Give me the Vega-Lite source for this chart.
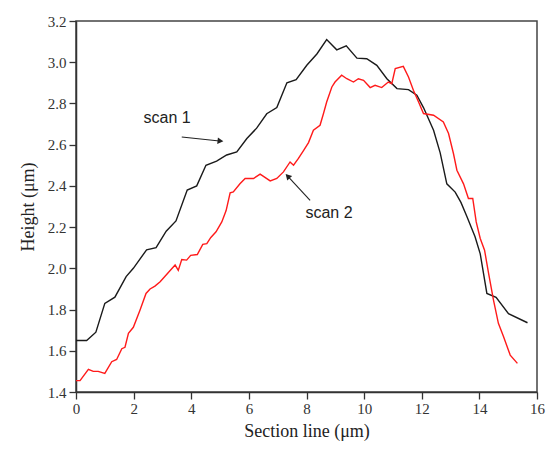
{
  "$schema": "https://vega.github.io/schema/vega-lite/v6.json",
  "width": 461,
  "height": 371,
  "autosize": {"type": "none"},
  "padding": {"left": 76, "top": 21, "right": 13, "bottom": 65},
  "background": "white",
  "config": {
    "view": {"stroke": "#444", "strokeWidth": 1.5},
    "axis": {
      "labelFont": "Liberation Serif",
      "titleFont": "Liberation Serif",
      "labelFontSize": 15,
      "titleFontSize": 18,
      "titleFontWeight": "normal",
      "labelColor": "#333",
      "titleColor": "#222",
      "domainColor": "#333",
      "domainWidth": 1.5,
      "tickColor": "#333",
      "tickWidth": 1.3,
      "grid": false
    }
  },
  "datasets": {
    "scans": [
      {"x": 0, "y": 1.65, "scan": "scan 1"},
      {"x": 0.37, "y": 1.65, "scan": "scan 1"},
      {"x": 0.69, "y": 1.69, "scan": "scan 1"},
      {"x": 1.0, "y": 1.83, "scan": "scan 1"},
      {"x": 1.35, "y": 1.86, "scan": "scan 1"},
      {"x": 1.74, "y": 1.96, "scan": "scan 1"},
      {"x": 1.99, "y": 2.0, "scan": "scan 1"},
      {"x": 2.45, "y": 2.09, "scan": "scan 1"},
      {"x": 2.78, "y": 2.1, "scan": "scan 1"},
      {"x": 3.13, "y": 2.18, "scan": "scan 1"},
      {"x": 3.47, "y": 2.23, "scan": "scan 1"},
      {"x": 3.86, "y": 2.38, "scan": "scan 1"},
      {"x": 4.19, "y": 2.4, "scan": "scan 1"},
      {"x": 4.51, "y": 2.5, "scan": "scan 1"},
      {"x": 4.88, "y": 2.52, "scan": "scan 1"},
      {"x": 5.23, "y": 2.55, "scan": "scan 1"},
      {"x": 5.58, "y": 2.565, "scan": "scan 1"},
      {"x": 5.93, "y": 2.63, "scan": "scan 1"},
      {"x": 6.27, "y": 2.68, "scan": "scan 1"},
      {"x": 6.62, "y": 2.75, "scan": "scan 1"},
      {"x": 6.97, "y": 2.78, "scan": "scan 1"},
      {"x": 7.32, "y": 2.9, "scan": "scan 1"},
      {"x": 7.64, "y": 2.915, "scan": "scan 1"},
      {"x": 8.01, "y": 2.985, "scan": "scan 1"},
      {"x": 8.36, "y": 3.04, "scan": "scan 1"},
      {"x": 8.7, "y": 3.11, "scan": "scan 1"},
      {"x": 9.05, "y": 3.06, "scan": "scan 1"},
      {"x": 9.38, "y": 3.08, "scan": "scan 1"},
      {"x": 9.75, "y": 3.02, "scan": "scan 1"},
      {"x": 10.09, "y": 3.017, "scan": "scan 1"},
      {"x": 10.44, "y": 2.985, "scan": "scan 1"},
      {"x": 10.79, "y": 2.92, "scan": "scan 1"},
      {"x": 11.14, "y": 2.872, "scan": "scan 1"},
      {"x": 11.54, "y": 2.867, "scan": "scan 1"},
      {"x": 11.83, "y": 2.84, "scan": "scan 1"},
      {"x": 12.06, "y": 2.78, "scan": "scan 1"},
      {"x": 12.41, "y": 2.67, "scan": "scan 1"},
      {"x": 12.64, "y": 2.56, "scan": "scan 1"},
      {"x": 12.87, "y": 2.41, "scan": "scan 1"},
      {"x": 13.16, "y": 2.37, "scan": "scan 1"},
      {"x": 13.36, "y": 2.32, "scan": "scan 1"},
      {"x": 13.57, "y": 2.25, "scan": "scan 1"},
      {"x": 13.85, "y": 2.153, "scan": "scan 1"},
      {"x": 14.03, "y": 2.07, "scan": "scan 1"},
      {"x": 14.26, "y": 1.878, "scan": "scan 1"},
      {"x": 14.58, "y": 1.859, "scan": "scan 1"},
      {"x": 15.01, "y": 1.78, "scan": "scan 1"},
      {"x": 15.67, "y": 1.736, "scan": "scan 1"},
      {"x": 0, "y": 1.455, "scan": "scan 2"},
      {"x": 0.14, "y": 1.455, "scan": "scan 2"},
      {"x": 0.43, "y": 1.51, "scan": "scan 2"},
      {"x": 0.6, "y": 1.5, "scan": "scan 2"},
      {"x": 0.77, "y": 1.5, "scan": "scan 2"},
      {"x": 1.0, "y": 1.49, "scan": "scan 2"},
      {"x": 1.24, "y": 1.547, "scan": "scan 2"},
      {"x": 1.41, "y": 1.558, "scan": "scan 2"},
      {"x": 1.59, "y": 1.61, "scan": "scan 2"},
      {"x": 1.7, "y": 1.617, "scan": "scan 2"},
      {"x": 1.82, "y": 1.685, "scan": "scan 2"},
      {"x": 1.99, "y": 1.714, "scan": "scan 2"},
      {"x": 2.22, "y": 1.797, "scan": "scan 2"},
      {"x": 2.43, "y": 1.878, "scan": "scan 2"},
      {"x": 2.57, "y": 1.9, "scan": "scan 2"},
      {"x": 2.74, "y": 1.914, "scan": "scan 2"},
      {"x": 2.92, "y": 1.935, "scan": "scan 2"},
      {"x": 3.09, "y": 1.962, "scan": "scan 2"},
      {"x": 3.26, "y": 1.988, "scan": "scan 2"},
      {"x": 3.44, "y": 2.016, "scan": "scan 2"},
      {"x": 3.55, "y": 1.99, "scan": "scan 2"},
      {"x": 3.67, "y": 2.043, "scan": "scan 2"},
      {"x": 3.84, "y": 2.04, "scan": "scan 2"},
      {"x": 3.98, "y": 2.063, "scan": "scan 2"},
      {"x": 4.21, "y": 2.067, "scan": "scan 2"},
      {"x": 4.4, "y": 2.116, "scan": "scan 2"},
      {"x": 4.54, "y": 2.12, "scan": "scan 2"},
      {"x": 4.68, "y": 2.15, "scan": "scan 2"},
      {"x": 4.86, "y": 2.177, "scan": "scan 2"},
      {"x": 5.06, "y": 2.225, "scan": "scan 2"},
      {"x": 5.21, "y": 2.28, "scan": "scan 2"},
      {"x": 5.35, "y": 2.366, "scan": "scan 2"},
      {"x": 5.46, "y": 2.371, "scan": "scan 2"},
      {"x": 5.69, "y": 2.41, "scan": "scan 2"},
      {"x": 5.87, "y": 2.436, "scan": "scan 2"},
      {"x": 6.16, "y": 2.436, "scan": "scan 2"},
      {"x": 6.39, "y": 2.457, "scan": "scan 2"},
      {"x": 6.74, "y": 2.424, "scan": "scan 2"},
      {"x": 6.97, "y": 2.436, "scan": "scan 2"},
      {"x": 7.2, "y": 2.468, "scan": "scan 2"},
      {"x": 7.43, "y": 2.516, "scan": "scan 2"},
      {"x": 7.55, "y": 2.5, "scan": "scan 2"},
      {"x": 7.72, "y": 2.533, "scan": "scan 2"},
      {"x": 7.89, "y": 2.57, "scan": "scan 2"},
      {"x": 8.07, "y": 2.61, "scan": "scan 2"},
      {"x": 8.24, "y": 2.67, "scan": "scan 2"},
      {"x": 8.47, "y": 2.694, "scan": "scan 2"},
      {"x": 8.59, "y": 2.751, "scan": "scan 2"},
      {"x": 8.7, "y": 2.807, "scan": "scan 2"},
      {"x": 8.88, "y": 2.88, "scan": "scan 2"},
      {"x": 8.99, "y": 2.904, "scan": "scan 2"},
      {"x": 9.22, "y": 2.937, "scan": "scan 2"},
      {"x": 9.4, "y": 2.92, "scan": "scan 2"},
      {"x": 9.63, "y": 2.904, "scan": "scan 2"},
      {"x": 9.8, "y": 2.92, "scan": "scan 2"},
      {"x": 9.98, "y": 2.912, "scan": "scan 2"},
      {"x": 10.21, "y": 2.877, "scan": "scan 2"},
      {"x": 10.38, "y": 2.888, "scan": "scan 2"},
      {"x": 10.61, "y": 2.877, "scan": "scan 2"},
      {"x": 10.84, "y": 2.904, "scan": "scan 2"},
      {"x": 10.96, "y": 2.896, "scan": "scan 2"},
      {"x": 11.08, "y": 2.969, "scan": "scan 2"},
      {"x": 11.36, "y": 2.98, "scan": "scan 2"},
      {"x": 11.54, "y": 2.928, "scan": "scan 2"},
      {"x": 11.71, "y": 2.864, "scan": "scan 2"},
      {"x": 11.89, "y": 2.807, "scan": "scan 2"},
      {"x": 12.06, "y": 2.751, "scan": "scan 2"},
      {"x": 12.41, "y": 2.743, "scan": "scan 2"},
      {"x": 12.75, "y": 2.71, "scan": "scan 2"},
      {"x": 12.93, "y": 2.654, "scan": "scan 2"},
      {"x": 13.1, "y": 2.557, "scan": "scan 2"},
      {"x": 13.22, "y": 2.476, "scan": "scan 2"},
      {"x": 13.45, "y": 2.41, "scan": "scan 2"},
      {"x": 13.62, "y": 2.339, "scan": "scan 2"},
      {"x": 13.77, "y": 2.339, "scan": "scan 2"},
      {"x": 13.89, "y": 2.225, "scan": "scan 2"},
      {"x": 14.03, "y": 2.145, "scan": "scan 2"},
      {"x": 14.18, "y": 2.088, "scan": "scan 2"},
      {"x": 14.32, "y": 1.975, "scan": "scan 2"},
      {"x": 14.49, "y": 1.846, "scan": "scan 2"},
      {"x": 14.66, "y": 1.733, "scan": "scan 2"},
      {"x": 14.84, "y": 1.668, "scan": "scan 2"},
      {"x": 15.07, "y": 1.579, "scan": "scan 2"},
      {"x": 15.32, "y": 1.539, "scan": "scan 2"}
    ],
    "labels": [
      {"x": 3.16, "y": 2.728, "label": "scan 1"},
      {"x": 8.78, "y": 2.268, "label": "scan 2"}
    ],
    "arrows": [
      {"x": 3.67, "y": 2.637, "x2": 4.98, "y2": 2.618, "arrow": "a1"},
      {"x": 8.125, "y": 2.33, "x2": 7.37, "y2": 2.444, "arrow": "a2"}
    ]
  },
  "layer": [
    {
      "data": {"name": "scans"},
      "mark": {"type": "line", "strokeWidth": 1.4, "clip": true},
      "encoding": {
        "x": {
          "field": "x", "type": "quantitative",
          "scale": {"domain": [0, 16], "nice": false, "zero": false},
          "axis": {
            "title": "Section line (μm)",
            "values": [0,1,2,3,4,5,6,7,8,9,10,11,12,13,14,15,16],
            "labelExpr": "datum.value % 2 == 0 ? datum.label : ''",
            "tickSize": {"condition": {"test": "datum.value % 2 == 0", "value": 7}, "value": 4},
            "labelPadding": 2,
            "titlePadding": 6,
            "labelFlush": false
          }
        },
        "y": {
          "field": "y", "type": "quantitative",
          "scale": {"domain": [1.4, 3.2], "nice": false, "zero": false},
          "axis": {
            "title": "Height (μm)",
            "values": [1.4,1.5,1.6,1.7,1.8,1.9,2.0,2.1,2.2,2.3,2.4,2.5,2.6,2.7,2.8,2.9,3.0,3.1,3.2],
            "labelExpr": "round(datum.value*10) % 2 == 0 ? format(datum.value, '.1f') : ''",
            "tickSize": {"condition": {"test": "round(datum.value*10) % 2 == 0", "value": 7}, "value": 4},
            "labelPadding": 3,
            "titlePadding": 10,
            "labelFlush": false
          }
        },
        "color": {
          "field": "scan", "type": "nominal",
          "scale": {"domain": ["scan 1", "scan 2"], "range": ["#1a1a1a", "#ff1a1a"]},
          "legend": null
        },
        "order": {"field": "x", "type": "quantitative"}
      }
    },
    {
      "data": {"name": "labels"},
      "mark": {"type": "text", "font": "Liberation Sans", "fontSize": 16, "color": "#222", "align": "center", "baseline": "middle"},
      "encoding": {
        "x": {"field": "x", "type": "quantitative"},
        "y": {"field": "y", "type": "quantitative"},
        "text": {"field": "label"}
      }
    },
    {
      "data": {"name": "arrows"},
      "mark": {"type": "rule", "color": "#222", "strokeWidth": 1.1},
      "encoding": {
        "x": {"field": "x", "type": "quantitative"},
        "y": {"field": "y", "type": "quantitative"},
        "x2": {"field": "x2"},
        "y2": {"field": "y2"}
      }
    },
    {
      "data": {"name": "arrows"},
      "transform": [{"filter": "datum.arrow == 'a1'"}],
      "mark": {"type": "point", "shape": "triangle", "filled": true, "color": "#222", "size": 45, "angle": 96, "opacity": 1},
      "encoding": {
        "x": {"field": "x2", "type": "quantitative"},
        "y": {"field": "y2", "type": "quantitative"}
      }
    },
    {
      "data": {"name": "arrows"},
      "transform": [{"filter": "datum.arrow == 'a2'"}],
      "mark": {"type": "point", "shape": "triangle", "filled": true, "color": "#222", "size": 45, "angle": 316, "opacity": 1},
      "encoding": {
        "x": {"field": "x2", "type": "quantitative"},
        "y": {"field": "y2", "type": "quantitative"}
      }
    }
  ]
}
